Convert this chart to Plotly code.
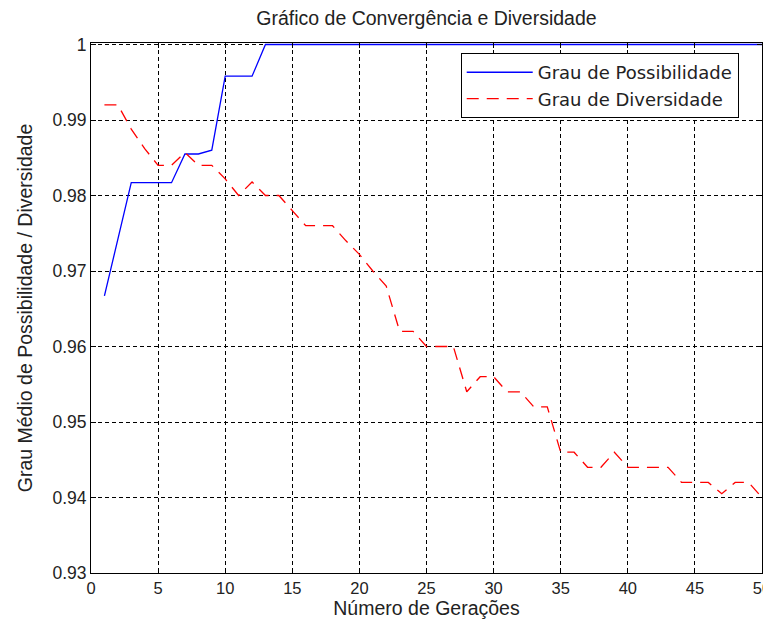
import plotly.graph_objects as go

geracoes = list(range(1, 51))
grau_possibilidade = [0.9667, 0.9742, 0.9817, 0.9817, 0.9817, 0.9817, 0.9855, 0.9855, 0.9860, 0.9958,
                      0.9958, 0.9958, 1.0] + [1.0] * 37
grau_diversidade = [0.992, 0.992, 0.9888, 0.9862, 0.984, 0.984, 0.9857, 0.984, 0.984, 0.9822,
                    0.980, 0.9818, 0.980, 0.980, 0.978, 0.976, 0.976, 0.976, 0.974, 0.9722,
                    0.970, 0.968, 0.962, 0.962, 0.960, 0.960, 0.960, 0.954, 0.956, 0.956,
                    0.954, 0.954, 0.952, 0.952, 0.946, 0.946, 0.944, 0.944, 0.946, 0.944,
                    0.944, 0.944, 0.944, 0.942, 0.942, 0.942, 0.9405, 0.942, 0.942, 0.940]
x_ticks = [0, 5, 10, 15, 20, 25, 30, 35, 40, 45, 50]
y_ticks = [0.93, 0.94, 0.95, 0.96, 0.97, 0.98, 0.99, 1.0]
y_ticktext = ["0.93", "0.94", "0.95", "0.96", "0.97", "0.98", "0.99", "1"]

FONT = "Liberation Sans, Arial, sans-serif"
LEGFONT = "DejaVu Sans, Liberation Sans, sans-serif"
TXT = "#222222"

fig = go.Figure()
fig.add_trace(go.Scatter(x=geracoes, y=grau_possibilidade, mode="lines",
                         name="Grau de Possibilidade",
                         line=dict(color="#0000ff", width=1.3)))
fig.add_trace(go.Scatter(x=geracoes, y=grau_diversidade, mode="lines",
                         name="Grau de Diversidade",
                         line=dict(color="#ff0000", width=1.3, dash="12px,8px")))

axis_common = dict(showline=True, linecolor="black", linewidth=1, mirror="ticks",
                   ticks="inside", ticklen=5, tickcolor="black",
                   showgrid=True, gridcolor="black", gridwidth=1, griddash="4px,3px",
                   zeroline=False, ticklabeloverflow="allow")

fig.update_xaxes(range=[0, 50], tickvals=x_ticks,
                 tickfont=dict(family=FONT, size=16.5, color=TXT),
                 title=dict(text="Número de Gerações", font=dict(family=FONT, size=19.5, color=TXT), standoff=3),
                 **axis_common)
fig.update_yaxes(range=[0.93, 1.0002], tickvals=y_ticks, ticktext=y_ticktext,
                 tickfont=dict(family=FONT, size=17.5, color=TXT),
                 title=dict(text="Grau Médio de Possibilidade / Diversidade", font=dict(family=FONT, size=19.5, color=TXT), standoff=14),
                 **axis_common)

fig.update_layout(
    width=763, height=612,
    margin=dict(l=83, r=9, t=35, b=47, autoexpand=False),
    paper_bgcolor="white", plot_bgcolor="white",
    title=dict(text="Gráfico de Convergência e Diversidade", x=0.5, xref="paper", xanchor="center",
               y=1 - 10 / 612, yanchor="middle",
               font=dict(family=FONT, size=19.5, color=TXT)),
    legend=dict(x=0.551, y=0.981, xanchor="left", yanchor="top",
                bgcolor="white", bordercolor="black", borderwidth=1,
                itemwidth=66,
                font=dict(family=LEGFONT, size=18, color=TXT)),
    showlegend=True,
)

fig.write_html("out.html")
